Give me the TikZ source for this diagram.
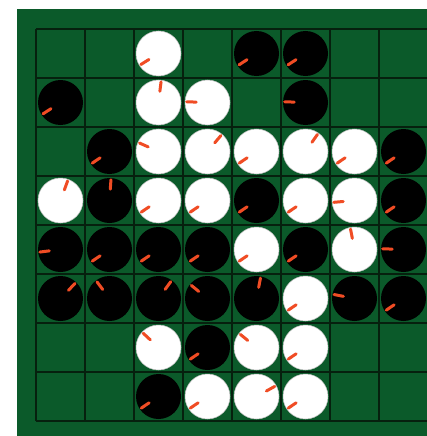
\documentclass[tikz,border=0pt]{standalone}
\definecolor{boardgreen}{RGB}{11,90,42}
\definecolor{gridline}{RGB}{6,32,14}
\definecolor{markred}{RGB}{240,76,36}
\tikzset{
  disc/.style={circle,minimum size=45pt,inner sep=0pt,outer sep=0pt},
  wdisc/.style={disc,fill=white,draw=white!75!black,line width=0.5pt},
  bdisc/.style={disc,fill=black},
  marker/.style={draw=markred,line width=3pt,line cap=round},
  gridstroke/.style={draw=gridline,line width=1.1pt}
}
\newcommand\mydisc[4]{%
  \node[#3] (d#1#2) at ({60.5pt+49pt*#2},{-53.5pt-49pt*#1}) {};
  \draw[marker] ([shift={(#4:11.3pt)}]d#1#2.center) -- ([shift={(#4:20.8pt)}]d#1#2.center);
}
\begin{document}
\begin{tikzpicture}
\useasboundingbox (0pt,0pt) rectangle (427pt,-436pt);
\clip (0pt,0pt) rectangle (427pt,-436pt);
\fill[white] (0pt,0pt) rectangle (427pt,-436pt);
\fill[boardgreen] (17pt,-9pt) rectangle (430pt,-440pt);
\foreach \i in {0,...,8}{
  \draw[gridstroke] ({36pt+49pt*\i},-29pt) -- ({36pt+49pt*\i},-421pt);
  \draw[gridstroke] (36pt,{-29pt-49pt*\i}) -- (430pt,{-29pt-49pt*\i});
}
% row 0
\mydisc{0}{2}{wdisc}{212}
\mydisc{0}{4}{bdisc}{213}
\mydisc{0}{5}{bdisc}{213}
% row 1
\mydisc{1}{0}{bdisc}{213}
\mydisc{1}{2}{wdisc}{83}
\mydisc{1}{3}{wdisc}{178}
\mydisc{1}{5}{bdisc}{178}
% row 2
\mydisc{2}{1}{bdisc}{214}
\mydisc{2}{2}{wdisc}{156}
\mydisc{2}{3}{wdisc}{50}
\mydisc{2}{4}{wdisc}{214}
\mydisc{2}{5}{wdisc}{55}
\mydisc{2}{6}{wdisc}{214}
\mydisc{2}{7}{bdisc}{214}
% row 3
\mydisc{3}{0}{wdisc}{70}
\mydisc{3}{1}{bdisc}{86}
\mydisc{3}{2}{wdisc}{214}
\mydisc{3}{3}{wdisc}{214}
\mydisc{3}{4}{bdisc}{214}
\mydisc{3}{5}{wdisc}{214}
\mydisc{3}{6}{wdisc}{185}
\mydisc{3}{7}{bdisc}{214}
% row 4
\mydisc{4}{0}{bdisc}{187}
\mydisc{4}{1}{bdisc}{214}
\mydisc{4}{2}{bdisc}{214}
\mydisc{4}{3}{bdisc}{214}
\mydisc{4}{4}{wdisc}{214}
\mydisc{4}{5}{bdisc}{214}
\mydisc{4}{6}{wdisc}{101}
\mydisc{4}{7}{bdisc}{178}
% row 5
\mydisc{5}{0}{bdisc}{46}
\mydisc{5}{1}{bdisc}{127}
\mydisc{5}{2}{bdisc}{54}
\mydisc{5}{3}{bdisc}{141}
\mydisc{5}{4}{bdisc}{79}
\mydisc{5}{5}{wdisc}{214}
\mydisc{5}{6}{bdisc}{169}
\mydisc{5}{7}{bdisc}{214}
% row 6
\mydisc{6}{2}{wdisc}{137}
\mydisc{6}{3}{bdisc}{214}
\mydisc{6}{4}{wdisc}{141}
\mydisc{6}{5}{wdisc}{214}
% row 7
\mydisc{7}{2}{bdisc}{214}
\mydisc{7}{3}{wdisc}{214}
\mydisc{7}{4}{wdisc}{29}
\mydisc{7}{5}{wdisc}{214}
\end{tikzpicture}
\end{document}
